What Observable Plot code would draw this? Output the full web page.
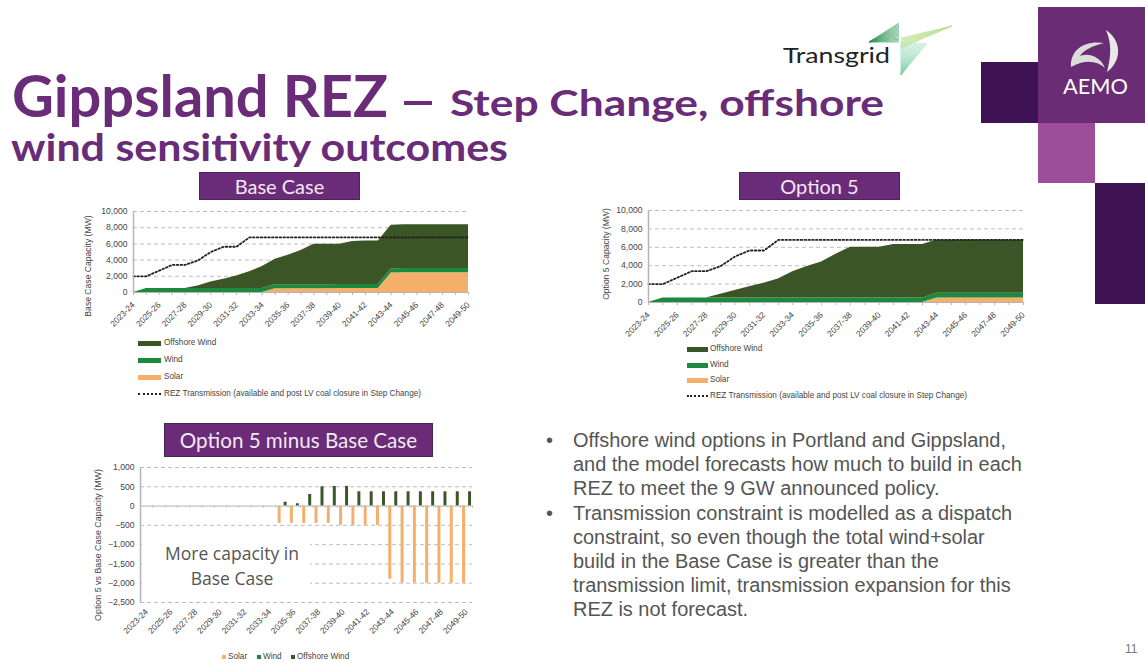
<!DOCTYPE html>
<html>
<head>
<meta charset="utf-8">
<script src="https://cdn.jsdelivr.net/npm/d3@7"></script>
<script src="https://cdn.jsdelivr.net/npm/@observablehq/plot@0.6"></script>
<style>
html,body{margin:0;padding:0;background:#fff;width:1145px;height:663px;overflow:hidden;font-family:"Liberation Sans",Arial,sans-serif}
.abs{position:absolute}
.plot{position:absolute}
.plot svg{display:block;background:transparent}
.bar{position:absolute;background:#6a2c78;color:#f3e9f3;font-family:Lato,sans-serif;text-align:center;border:1px solid #4d2458;box-sizing:border-box}
.sq{position:absolute}
.lg{position:absolute;font-size:8.2px;color:#444;white-space:nowrap;line-height:10px}
.sw{position:absolute;height:5px}
.dot{position:absolute;height:0;border-top:2px dotted #222}
.body{position:absolute;font-size:19.95px;color:#555;white-space:nowrap;line-height:20px}
</style>
</head>
<body>
<svg class="abs" style="left:0;top:0" width="1145" height="663" id="slide">
  <g font-family="Lato,sans-serif" font-weight="700" fill="#6a2c78">
    <text x="12" y="117" font-size="57" textLength="376" lengthAdjust="spacingAndGlyphs">Gippsland REZ</text>
    <text x="398" y="117" font-size="46" textLength="40" lengthAdjust="spacingAndGlyphs">–</text>
    <text x="450" y="116" font-size="37" textLength="434" lengthAdjust="spacingAndGlyphs">Step Change, offshore</text>
    <text x="11" y="161" font-size="38" textLength="497" lengthAdjust="spacingAndGlyphs">wind sensitivity outcomes</text>
  </g>
  <text x="783" y="63" font-family="Lato,sans-serif" font-size="22" font-weight="400" fill="#222" textLength="107" lengthAdjust="spacingAndGlyphs">Transgrid</text>
  <g id="fan"></g>
  <rect x="981" y="62" width="57" height="61" fill="#3d1152"/>
  <rect x="1038" y="7" width="107" height="116" fill="#6a2c74"/>
  <rect x="1038" y="123" width="57" height="60" fill="#9c4f98"/>
  <rect x="1095" y="183" width="50" height="121" fill="#3d1152"/>
  <path d="M1106 30 C1121 40 1123 60 1107 72 C1111 56 1112 44 1106 30Z" fill="#e8e8e8"/>
  <path d="M1071 67 C1070 50 1084 40 1104 43 C1092 46 1084 50 1080 56 C1090 52 1101 58 1105 68 C1096 60 1084 60 1071 67Z" fill="#dcdcdc"/>
  <text x="1063" y="94" font-family="Lato,sans-serif" font-size="22" fill="#fff" textLength="65" lengthAdjust="spacingAndGlyphs">AEMO</text>
  <text x="1125" y="653" font-size="12" fill="#777">11</text>
</svg>

<div class="bar" style="left:199px;top:172px;width:161px;height:28px;font-size:20px;line-height:27px">Base Case</div>
<div class="bar" style="left:739px;top:172px;width:161px;height:28px;font-size:20px;line-height:27px">Option 5</div>
<div class="bar" style="left:164px;top:423px;width:269px;height:34px;font-size:20.6px;line-height:33px">Option 5 minus Base Case</div>

<div id="chartA" class="plot" style="left:80px;top:200px"></div>
<div id="chartB" class="plot" style="left:600px;top:200px"></div>
<div id="chartC" class="plot" style="left:90px;top:455px"></div>

<div class="abs" style="left:142px;top:533px;width:168px;height:68px;background:#fff"></div>
<div class="abs" style="left:142px;top:541px;width:180px;text-align:center;font-family:'Open Sans',sans-serif;font-size:17.5px;line-height:25px;color:#555">More capacity in<br>Base Case</div>

<div id="legends"></div>
<div id="bullets"></div>

<script>
const years = ["2023-24","2024-25","2025-26","2026-27","2027-28","2028-29","2029-30","2030-31","2031-32","2032-33","2033-34","2034-35","2035-36","2036-37","2037-38","2038-39","2039-40","2040-41","2041-42","2042-43","2043-44","2044-45","2045-46","2046-47","2047-48","2048-49","2049-50"];
const labelledYears = years.filter((d,i)=>i%2===0);
const seriesNames = ["Solar","Wind","Offshore Wind"];
const seriesColors = ["#f4b06a","#1b8a3f","#3b5526"];

const transmission = [2000,2000,2700,3400,3400,3950,5000,5650,5650,6800,6800,6800,6800,6800,6800,6800,6800,6800,6800,6800,6800,6800,6800,6800,6800,6800,6800];

const baseSolar    = [0,0,0,0,0,0,0,0,0,0,0,450,450,450,450,450,500,500,500,500,2400,2450,2450,2450,2450,2450,2450];
const baseWind     = [0,500,500,500,500,500,500,500,500,500,500,500,500,500,500,500,500,500,500,500,500,500,500,500,500,500,500];
const baseOffshore = [0,0,0,0,0,300,800,1150,1550,2050,2700,3150,3650,4250,5000,5000,4950,5300,5350,5350,5400,5400,5400,5400,5400,5400,5400];

const opt5Solar    = [0,0,0,0,0,0,0,0,0,0,0,0,0,0,0,0,0,0,0,0,500,500,500,500,500,500,500];
const opt5Wind     = [0,500,500,500,500,500,500,500,500,500,500,500,500,500,500,500,500,500,500,500,500,500,500,500,500,500,500];
const opt5Offshore = [0,0,0,0,0,400,800,1200,1600,2050,2850,3400,3900,4750,5500,5500,5500,5800,5800,5800,5800,5800,5800,5800,5800,5800,5800];

const diffSolar    = [0,0,0,0,0,0,0,0,0,0,0,-450,-450,-450,-450,-450,-500,-500,-500,-500,-1900,-2000,-2000,-2000,-2000,-2000,-2000];
const diffWind     = [0,0,0,0,0,0,0,0,0,0,0,0,0,0,0,0,0,0,0,0,0,0,0,0,0,0,0];
const diffOffshore = [0,0,0,0,0,0,0,0,0,0,0,100,60,300,500,510,510,370,370,370,370,370,370,370,370,370,370];

const capTicks = [0,2000,4000,6000,8000,10000];
const diffTicks = [-2500,-2000,-1500,-1000,-500,0,500,1000];
const tickInk = "#444", gridInk = "#bdbdbd", axisInk = "#b5b5b5";
const fontCss = {fontFamily:"'Liberation Sans',Arial,sans-serif",fontSize:"8.4px",color:tickInk,background:"transparent"};
const fmt = d3.format(",");

function rows(arrs){
  return arrs.flatMap((vals,s)=>vals.map((value,i)=>({idx:i,year:years[i],series:seriesNames[s],value})));
}
function areaChart(id,opt,arrs,yLabel){
  const trans = years.map((year,i)=>({idx:i,year,value:transmission[i]}));
  const p = Plot.plot({
    width:opt.width,height:opt.height,
    marginLeft:opt.ml,marginRight:opt.mr,marginTop:opt.mt,marginBottom:opt.mb,
    style:fontCss,
    x:{type:"linear",domain:[0,years.length-1],label:null},
    y:{domain:[0,10000],label:null},
    color:{domain:seriesNames,range:seriesColors},
    marks:[
      Plot.ruleY(capTicks.filter(d=>d>0),{stroke:gridInk,strokeWidth:1,strokeDasharray:"4,3"}),
      Plot.areaY(rows(arrs),{x:"idx",y:"value",fill:"series"}),
      Plot.line(trans,{x:"idx",y:"value",stroke:"#222",strokeWidth:1.8,strokeDasharray:"1.6,2.2"}),
      Plot.ruleY([0],{stroke:axisInk,strokeWidth:1}),
      Plot.ruleX([0],{stroke:axisInk,strokeWidth:1.5}),
      Plot.axisY({ticks:capTicks,tickFormat:fmt,tickSize:0,tickPadding:6,fontSize:8.6,label:null}),
      Plot.axisX({ticks:d3.range(years.length),tickSize:3,stroke:axisInk,tickRotate:-45,tickPadding:8,fill:tickInk,
        tickFormat:i=>i%2===0?years[i]:"",label:null})
    ]
  });
  document.getElementById(id).appendChild(p);
  addYLabel(p,yLabel,opt.labelX,opt.labelY);
}
function addYLabel(svg,text,x,y,size){
  const t=document.createElementNS("http://www.w3.org/2000/svg","text");
  t.setAttribute("transform",`translate(${x},${y}) rotate(-90)`);
  t.setAttribute("text-anchor","middle");
  t.setAttribute("fill",tickInk);
  t.setAttribute("font-size",size||"8.6");
  t.textContent=text;
  svg.appendChild(t);
}
areaChart("chartA",{width:400,height:135,ml:53,mr:12,mt:11,mb:43,labelX:11,labelY:66},[baseSolar,baseWind,baseOffshore],"Base Case Capacity (MW)");
areaChart("chartB",{width:430,height:145,ml:48,mr:7,mt:10,mb:43,labelX:9,labelY:54},[opt5Solar,opt5Wind,opt5Offshore],"Option 5 Capacity (MW)");

const step = 332/27;
const bar = (vals,color,dx)=>Plot.barY(years.map((year,i)=>({year,value:vals[i]})),{x:"year",y:"value",fill:color,dx});
const c = Plot.plot({
  width:390,height:192,marginLeft:50,marginRight:8,marginTop:12,marginBottom:45,
  style:fontCss,
  x:{type:"band",domain:years,paddingInner:0.76,paddingOuter:0.38,round:false,label:null},
  y:{domain:[-2500,1000],label:null},
  marks:[
    Plot.ruleY(diffTicks.filter(d=>d!==0),{stroke:gridInk,strokeWidth:1,strokeDasharray:"4,3"}),
    bar(diffSolar,seriesColors[0],-2.3),
    bar(diffWind,seriesColors[1],0.7),
    bar(diffOffshore,seriesColors[2],3.7),
    Plot.ruleY([0],{stroke:axisInk,strokeWidth:1}),
    Plot.ruleX(years,{x:d=>d,y1:0,y2:-50,dx:step/2,stroke:axisInk,strokeWidth:1}),
    Plot.ruleX([years[0]],{x:d=>d,y1:-2500,y2:1000,dx:-step/2,stroke:axisInk,strokeWidth:1.5}),
    Plot.axisY({ticks:diffTicks,tickFormat:fmt,tickSize:0,tickPadding:6,fontSize:8.6,label:null}),
    Plot.axisX({ticks:labelledYears,tickSize:0,tickRotate:-45,tickPadding:8,fill:tickInk,label:null})
  ]
});
document.getElementById("chartC").appendChild(c);
addYLabel(c,"Option 5 vs Base Case Capacity (MW)",11,90,"8.9");

// legends
const legendLabels = ["Offshore Wind","Wind","Solar","REZ Transmission (available and post LV coal closure in Step Change)"];
const legendColors = [seriesColors[2],seriesColors[1],seriesColors[0]];
function legend(x,tx,ys,w){
  const host=document.getElementById("legends");
  legendLabels.forEach((txt,i)=>{
    const y=ys[i];
    const s=document.createElement("div");
    if(i<3){s.className="sw";s.style.cssText=`left:${x}px;top:${y-2.5}px;width:${w}px;background:${legendColors[i]}`;}
    else{s.className="dot";s.style.cssText=`left:${x}px;top:${y-1}px;width:${w}px`;}
    host.appendChild(s);
    const t=document.createElement("div");t.className="lg";t.textContent=txt;
    t.style.cssText=`left:${tx}px;top:${y-5}px`;host.appendChild(t);
  });
}
legend(138,164,[343,360,377,394],23);
legend(687,710,[349,365,380,396],21);
const hostL=document.getElementById("legends");
[[222,228,"Solar",0],[257,263,"Wind",1],[291,297,"Offshore Wind",2]].forEach(([sx,tx,txt,i])=>{
  const s=document.createElement("div");s.className="sq";
  s.style.cssText=`left:${sx}px;top:655px;width:4px;height:4px;background:${seriesColors[i]}`;hostL.appendChild(s);
  const t=document.createElement("div");t.className="lg";t.textContent=txt;t.style.cssText=`left:${tx}px;top:652px`;hostL.appendChild(t);
});

// bullets
const bulletLines = [
 ["Offshore wind options in Portland and Gippsland,",430,true],
 ["and the model forecasts how much to build in each",454,false],
 ["REZ to meet the 9 GW announced policy.",478,false],
 ["Transmission constraint is modelled as a dispatch",503,true],
 ["constraint, so even though the total wind+solar",527,false],
 ["build in the Base Case is greater than the",551,false],
 ["transmission limit, transmission expansion for this",575,false],
 ["REZ is not forecast.",599,false]
];
const hb=document.getElementById("bullets");
bulletLines.forEach(([txt,top,b])=>{
  const d=document.createElement("div");d.className="body";d.textContent=txt;d.style.cssText=`left:573px;top:${top}px`;hb.appendChild(d);
  if(b){const m=document.createElement("div");m.className="body";m.textContent="•";m.style.cssText=`left:546px;top:${top}px`;hb.appendChild(m);}
});

// Transgrid logo fan
const NS="http://www.w3.org/2000/svg", fan=document.getElementById("fan");
function seg(x1,y1,x2,y2,col){const l=document.createElementNS(NS,"line");
  l.setAttribute("x1",x1);l.setAttribute("y1",y1);l.setAttribute("x2",x2);l.setAttribute("y2",y2);
  l.setAttribute("stroke",col);l.setAttribute("stroke-width","0.6");fan.appendChild(l);}
for(let k=0;k<=14;k++){const t=k/14;
  seg(869,42,899,23+19*t,"#2f9a58");
  seg(952,26,901,38+10*t,"#bfe39a");
  seg(901,75,901+26*t,42+1*t,"#7fd0a8");
}
</script>
</body>
</html>
